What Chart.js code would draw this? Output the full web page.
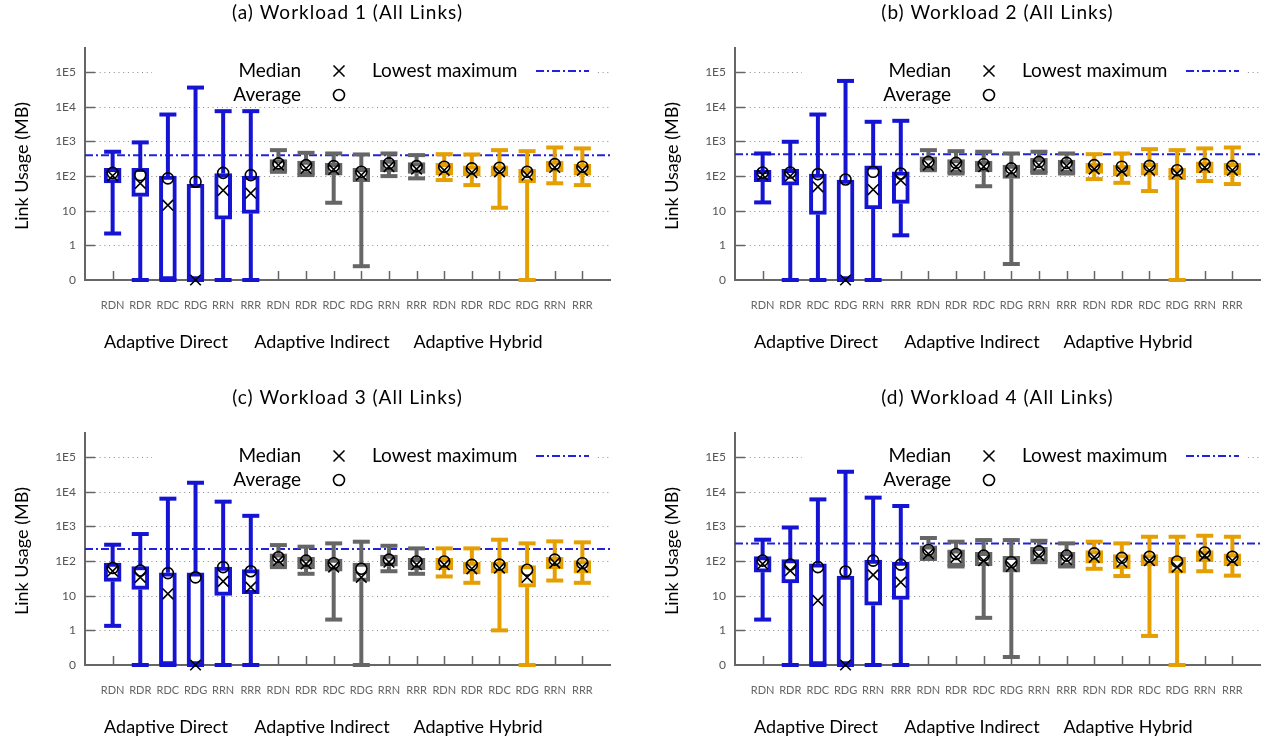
<!DOCTYPE html>
<html><head><meta charset="utf-8">
<script src="https://cdn.jsdelivr.net/npm/chart.js@4"></script>
<style>
html,body{margin:0;padding:0;background:#fff;}
body{width:1270px;height:743px;overflow:hidden;position:relative;}
canvas{position:absolute;}
</style></head>
<body>
<canvas id="c0" width="635" height="358" style="left:0;top:0"></canvas>
<canvas id="c1" width="620" height="358" style="left:650px;top:0"></canvas>
<canvas id="c2" width="635" height="358" style="left:0;top:385px"></canvas>
<canvas id="c3" width="620" height="358" style="left:650px;top:385px"></canvas>
<script>
// ---------- data ----------
const categories = ['RDN','RDR','RDC','RDG','RRN','RRR','RDN','RDR','RDC','RDG','RRN','RRR','RDN','RDR','RDC','RDG','RRN','RRR'];
const groupNames = ['Adaptive Direct','Adaptive Indirect','Adaptive Hybrid'];
const yTickValues = [0.1, 1, 10, 100, 1000, 10000, 100000];
const yTickLabels = ['0','1','10','1E2','1E3','1E4','1E5'];
const panelTitles = ['(a) Workload 1 (All Links)','(b) Workload 2 (All Links)','(c) Workload 3 (All Links)','(d) Workload 4 (All Links)'];
const lowestMaximum = [400, 430, 225, 325];

// Workload 1
const w1Max = [505, 940, 6000, 36000, 7500, 7500, 562, 470, 450, 422, 450, 404, 430, 422, 562, 525, 670, 630];
const w1Q3  = [167, 167, 100, 58, 119, 100, 302, 270, 233, 167, 290, 247, 233, 198, 198, 156, 270, 222];
const w1Med = [102, 62, 14.5, 0.1, 39, 32, 208, 167, 156, 107, 187, 159, 147, 127, 133, 107, 178, 147];
const w1Avg = [124, 107, 86, 69, 124, 107, 233, 208, 194, 133, 233, 194, 187, 167, 174, 133, 222, 187];
const w1Q1  = [64, 26, 0.1, 0.1, 5.7, 8.4, 133, 107, 107, 69, 133, 119, 107, 100, 100, 64, 133, 107];
const w1Min = [2.2, 0.1, 0.1, 0.1, 0.1, 0.1, 133, 107, 17, 0.25, 100, 86, 77, 55, 12.2, 0.1, 62, 55];
// Workload 2
const w2Max = [450, 980, 6000, 56000, 3700, 3950, 562, 525, 505, 450, 505, 450, 430, 450, 600, 562, 630, 670];
const w2Q3  = [148, 156, 114, 77, 198, 133, 360, 302, 270, 208, 324, 290, 233, 208, 233, 167, 258, 233];
const w2Med = [107, 100, 49, 0.1, 41, 76, 208, 187, 187, 133, 208, 198, 159, 139, 147, 119, 178, 147];
const w2Avg = [127, 127, 114, 80, 133, 119, 258, 241, 222, 167, 258, 241, 208, 187, 198, 147, 222, 194];
const w2Q1  = [69, 55, 7.8, 0.1, 11.2, 16.3, 148, 119, 133, 86, 124, 119, 119, 100, 107, 77, 124, 107];
const w2Min = [17.4, 0.1, 0.1, 0.1, 0.1, 1.95, 148, 119, 51, 0.29, 124, 119, 82, 64, 37, 0.1, 72, 59];
// Workload 3
const w3Max = [297, 605, 6350, 18300, 5200, 2030, 290, 261, 325, 363, 277, 233, 233, 233, 415, 325, 372, 348];
const w3Q3  = [87, 70, 46, 46, 67, 57, 161, 129, 115, 87, 150, 120, 120, 93, 93, 74, 129, 103];
const w3Med = [51, 34, 11.4, 0.1, 26, 17.7, 103, 83, 67, 34, 93, 79, 79, 60, 63, 34, 89, 67];
const w3Avg = [63, 53, 45, 34, 67, 51, 129, 103, 87, 60, 110, 97, 97, 78, 79, 56, 110, 87];
const w3Q1  = [26, 15.2, 0.1, 0.1, 10.2, 11.4, 67, 60, 51, 26, 71, 57, 57, 43, 45, 17.7, 60, 45];
const w3Min = [1.35, 0.1, 0.1, 0.1, 0.1, 0.1, 67, 43, 2.05, 0.1, 51, 43, 36, 23.6, 1.0, 0.1, 27.5, 23.6];
// Workload 4
const w4Max = [415, 935, 6050, 38000, 6800, 3900, 465, 363, 405, 405, 386, 325, 363, 325, 505, 505, 540, 505];
const w4Q3  = [134, 110, 83, 37, 107, 93, 277, 210, 178, 137, 250, 178, 200, 155, 155, 129, 200, 161];
const w4Med = [83, 53, 7.3, 0.1, 40, 24.6, 161, 129, 103, 70, 144, 110, 129, 93, 103, 67, 144, 103];
const w4Avg = [103, 79, 67, 50, 103, 79, 210, 161, 144, 93, 191, 144, 167, 124, 134, 97, 178, 134];
const w4Q1  = [48, 23.6, 0.1, 0.1, 5.3, 7.8, 115, 70, 74, 48, 93, 70, 87, 60, 74, 45, 97, 74];
const w4Min = [2.05, 0.1, 0.1, 0.1, 0.1, 0.1, 115, 70, 2.3, 0.17, 93, 70, 60, 37, 0.69, 0.1, 51, 38];

// ---------- styles ----------
const FONT = "Lato, 'Open Sans', 'DejaVu Sans', sans-serif";
const groupColors = ['#1414d2', '#666666', '#e69f00'];
const lineBlue = '#2222dd';
const colorOf = i => groupColors[Math.floor(i / 6)];

const panels = [
  {min:w1Min,q1:w1Q1,med:w1Med,q3:w1Q3,max:w1Max,avg:w1Avg},
  {min:w2Min,q1:w2Q1,med:w2Med,q3:w2Q3,max:w2Max,avg:w2Avg},
  {min:w3Min,q1:w3Q1,med:w3Med,q3:w3Q3,max:w3Max,avg:w3Avg},
  {min:w4Min,q1:w4Q1,med:w4Med,q3:w4Q3,max:w4Max,avg:w4Avg}
];

function seg(ctx, x1, y1, x2, y2){ ctx.beginPath(); ctx.moveTo(x1,y1); ctx.lineTo(x2,y2); ctx.stroke(); }
function drawX(ctx, x, y, r){ seg(ctx, x-r, y-r, x+r, y+r); seg(ctx, x-r, y+r, x+r, y-r); }
function drawO(ctx, x, y, r){ ctx.beginPath(); ctx.arc(x, y, r, 0, Math.PI*2); ctx.stroke(); }

const boxPlugin = {
  id: 'boxplot',
  beforeDatasetsDraw(chart) {
    const o = chart.options.plugins.boxplot;
    const d = o.data;
    const {ctx, chartArea: a, scales: {x, y}} = chart;
    ctx.save();
    // dotted grid
    ctx.strokeStyle = '#8a8a8a'; ctx.lineWidth = 1; ctx.setLineDash([1, 3.7]);
    yTickValues.slice(1).forEach(v => {
      const py = Math.round(y.getPixelForValue(v)) + 0.5;
      seg(ctx, a.left + 10, py, a.right, py);
    });
    ctx.setLineDash([]);
    // legend background
    ctx.fillStyle = '#fff';
    ctx.fillRect(a.left + 67, a.top + 12, 445, 42);
    // inward ticks
    ctx.strokeStyle = '#666'; ctx.lineWidth = 1.5;
    yTickValues.slice(1).forEach(v => {
      const py = Math.round(y.getPixelForValue(v)) + 0.5;
      seg(ctx, a.left, py, a.left + 10, py);
    });
    categories.forEach((c, i) => {
      const px = Math.round(x.getPixelForValue(i)) + 0.5;
      seg(ctx, px, a.bottom, px, a.bottom - 9);
    });
    // lowest maximum line
    ctx.strokeStyle = lineBlue; ctx.lineWidth = 2; ctx.setLineDash([8, 3, 2, 3]);
    const pl = y.getPixelForValue(o.lowest);
    seg(ctx, a.left, pl, a.right, pl);
    ctx.setLineDash([]);
    // whiskers
    ctx.lineWidth = 4; ctx.lineCap = 'butt';
    categories.forEach((c, i) => {
      const px = x.getPixelForValue(i);
      ctx.strokeStyle = colorOf(i);
      const pMax = y.getPixelForValue(d.max[i]), pQ3 = y.getPixelForValue(d.q3[i]);
      const pMin = y.getPixelForValue(d.min[i]), pQ1 = y.getPixelForValue(d.q1[i]);
      seg(ctx, px, pQ3, px, pMax);
      seg(ctx, px, pQ1, px, pMin);
      seg(ctx, px - 8.5, pMax, px + 8.5, pMax);
      seg(ctx, px - 8.5, pMin, px + 8.5, pMin);
    });
    ctx.restore();
  },
  afterDraw(chart) {
    const o = chart.options.plugins.boxplot;
    const {ctx, chartArea: a} = chart;
    ctx.save();
    ctx.fillStyle = '#000'; ctx.strokeStyle = '#000';
    ctx.textBaseline = 'middle';
    // title
    ctx.font = '19px ' + FONT; ctx.textAlign = 'center';
    ctx.letterSpacing = '1px';
    ctx.fillText(o.title, (a.left + a.right) / 2, 13);
    ctx.letterSpacing = '0px';
    // y title
    ctx.save();
    ctx.translate(22, (a.top + a.bottom) / 2 + 2);
    ctx.rotate(-Math.PI / 2);
    ctx.font = '18px ' + FONT;
    ctx.fillText('Link Usage (MB)', 0, 0);
    ctx.restore();
    // legend
    ctx.font = '19px ' + FONT;
    ctx.textAlign = 'right';
    ctx.fillText('Median', a.left + 216, a.top + 23);
    ctx.fillText('Average', a.left + 216, a.top + 47);
    ctx.textAlign = 'left';
    ctx.fillText('Lowest maximum', a.left + 287, a.top + 23);
    ctx.lineWidth = 1.6;
    drawX(ctx, a.left + 254, a.top + 23, 5.5);
    drawO(ctx, a.left + 254, a.top + 47, 5.5);
    ctx.strokeStyle = lineBlue; ctx.lineWidth = 2; ctx.setLineDash([8, 3, 2, 3]);
    seg(ctx, a.left + 451, a.top + 23, a.left + 504, a.top + 23);
    ctx.setLineDash([]);
    // group labels
    ctx.font = '18px ' + FONT;
    ctx.textAlign = 'center';
    [81, 237, 393].forEach((dx, k) => ctx.fillText(groupNames[k], a.left + dx, a.bottom + 62));
    ctx.restore();
  }
};

function makePanel(idx, rightPad) {
  const d = panels[idx];
  const pts = arr => arr.map((v, i) => ({x: i, y: v}));
  new Chart(document.getElementById('c' + idx), {
    type: 'bar',
    data: {
      datasets: [
        {
          type: 'bar',
          data: categories.map((c, i) => ({x: i, y: [d.q1[i], d.q3[i]]})),
          backgroundColor: '#ffffff',
          borderColor: categories.map((c, i) => colorOf(i)),
          borderWidth: 4,
          borderSkipped: false,
          barThickness: 17,
          clip: false,
          order: 3
        },
        {
          type: 'line', showLine: false, data: pts(d.avg),
          pointStyle: 'circle', pointRadius: 5.5, pointBorderWidth: 1.6,
          pointBorderColor: '#000', pointBackgroundColor: 'rgba(0,0,0,0)',
          clip: false, order: 2
        },
        {
          type: 'line', showLine: false, data: pts(d.med),
          pointStyle: 'crossRot', pointRadius: 7.5, pointBorderWidth: 1.6,
          pointBorderColor: '#000', pointBackgroundColor: 'rgba(0,0,0,0)',
          clip: false, order: 1
        }
      ]
    },
    options: {
      responsive: false,
      animation: false,
      devicePixelRatio: 1,
      layout: {padding: {top: 48, right: rightPad, left: 0, bottom: 0}},
      plugins: {
        legend: {display: false},
        tooltip: {enabled: false},
        boxplot: {data: d, lowest: lowestMaximum[idx], title: panelTitles[idx]}
      },
      scales: {
        x: {
          type: 'linear', min: -1, max: 18, offset: false,
          afterBuildTicks: s => { s.ticks = categories.map((c, i) => ({value: i})); },
          afterFit: s => { s.height = 78; },
          ticks: {
            callback: (v, i) => categories[i],
            autoSkip: false, maxRotation: 0, minRotation: 0,
            padding: 19, color: '#666', font: {family: FONT, size: 11}
          },
          grid: {display: false, drawTicks: false, offset: false},
          border: {display: true, color: '#666', width: 2}
        },
        y: {
          type: 'logarithmic', min: 0.1, max: 500000,
          afterBuildTicks: s => { s.ticks = yTickValues.map(v => ({value: v})); },
          afterFit: s => { s.width = 85; },
          ticks: {
            callback: (v, i) => yTickLabels[i],
            padding: 9, color: '#555', font: {family: FONT, size: 12}
          },
          grid: {display: false, drawTicks: false},
          border: {display: true, color: '#666', width: 2}
        }
      }
    },
    plugins: [boxPlugin]
  });
}
makePanel(0, 25);
makePanel(1, 10);
makePanel(2, 25);
makePanel(3, 10);
</script>
</body></html>
